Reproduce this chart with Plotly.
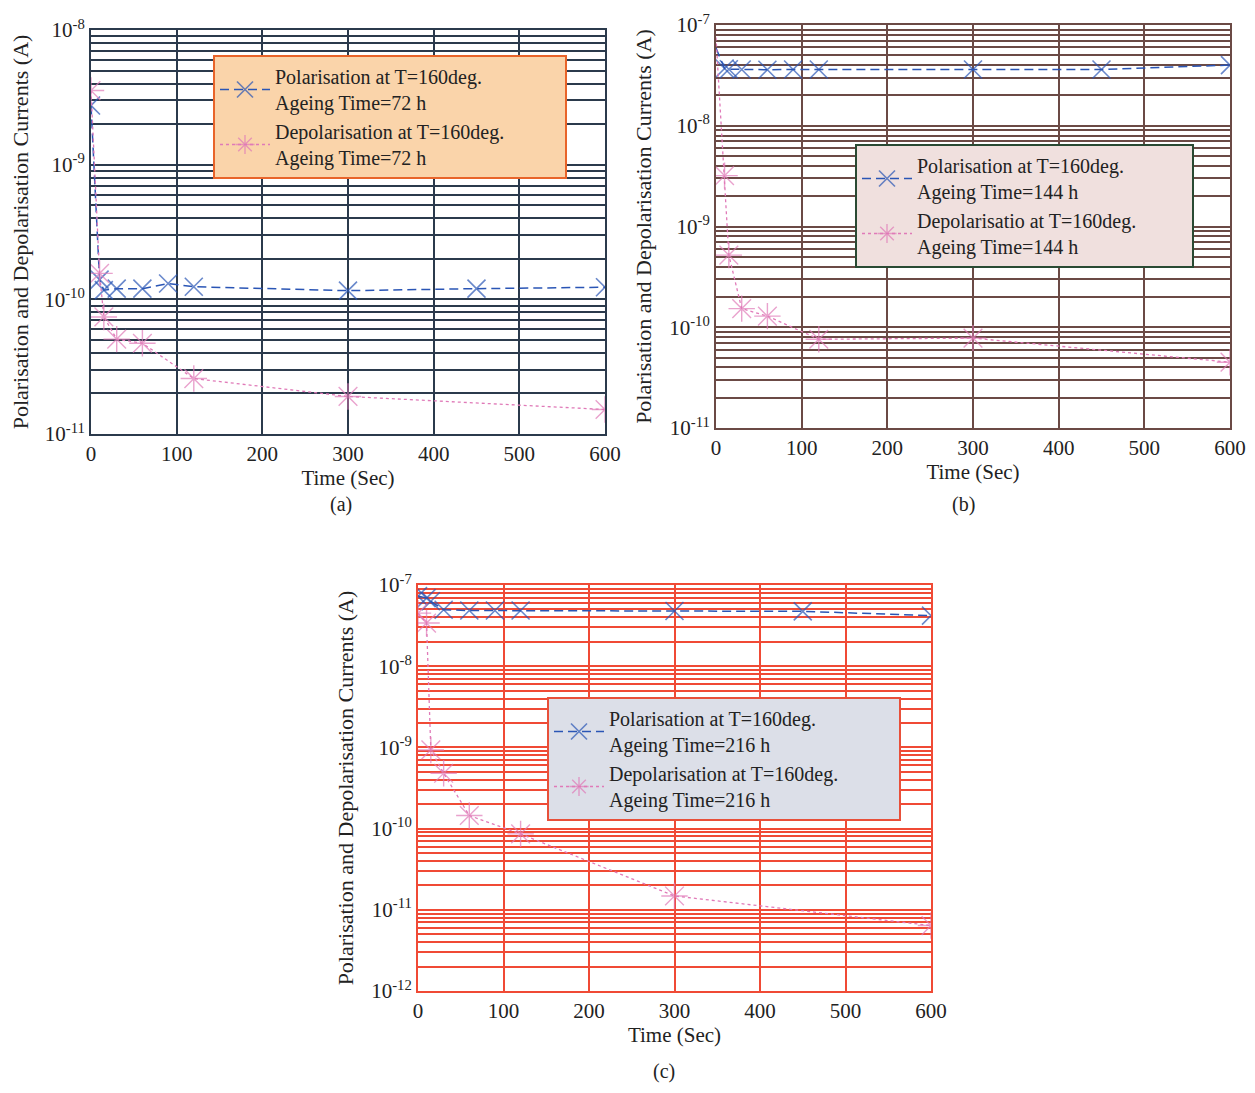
import plotly.graph_objects as go

# ---------------- data ----------------
t_pol = [0, 10, 15, 30, 60, 90, 120, 300, 450, 600]
t_dep = [0, 10, 15, 30, 60, 120, 300, 600]

pol_72 = [2.75e-9, 1.40e-10, 1.17e-10, 1.20e-10, 1.20e-10, 1.31e-10, 1.24e-10, 1.16e-10, 1.20e-10, 1.23e-10]
dep_72 = [3.55e-9, 1.56e-10, 7.4e-11, 5.06e-11, 4.72e-11, 2.58e-11, 1.90e-11, 1.52e-11]

pol_144 = [5.9e-8, 3.70e-8, 3.64e-8, 3.62e-8, 3.60e-8, 3.62e-8, 3.62e-8, 3.62e-8, 3.62e-8, 4.0e-8]
dep_144 = [7.5e-8, 3.2e-9, 5.2e-10, 1.53e-10, 1.29e-10, 7.6e-11, 7.8e-11, 4.5e-11]

pol_216 = [7.3e-8, 6.9e-8, 6.3e-8, 4.96e-8, 4.85e-8, 4.85e-8, 4.85e-8, 4.78e-8, 4.74e-8, 4.2e-8]
dep_216 = [4.5e-8, 3.4e-8, 9.3e-10, 4.8e-10, 1.45e-10, 8.6e-11, 1.48e-11, 6.4e-12]

pol_names = ["Polarisation at T=160deg.<br>Ageing Time=72 h",
             "Polarisation at T=160deg.<br>Ageing Time=144 h",
             "Polarisation at T=160deg.<br>Ageing Time=216 h"]
dep_names = ["Depolarisation at T=160deg.<br>Ageing Time=72 h",
             "Depolarisatio at T=160deg.<br>Ageing Time=144 h",
             "Depolarisation at T=160deg.<br>Ageing Time=216 h"]

x_ticks = [0, 100, 200, 300, 400, 500, 600]
decades = [(-11, -8), (-11, -7), (-12, -7)]
captions = ["(a)", "(b)", "(c)"]

# ---------------- layout helpers ----------------
W, H = 1239, 1077   # figure size (page has 8px body margin)
def fx(px):
    return (px - 8) / W
def fy(py):
    return 1 - (py - 8) / H

SERIF = "Liberation Serif, Times New Roman, serif"
BLUE = "#2a55b5"
PINK = "#e07ab8"
TXT = "#222222"

panels = [
    dict(x0=91, x1=605, y0=30, y1=434, grid="#2b3a4c", leg=(213, 55), pad=11,
         legbg="#fad4aa", legbd="#e8642a", cap=(341, 504)),
    dict(x0=716, x1=1230, y0=25, y1=428, grid="#6b4a45", leg=(855, 144), pad=10,
         legbg="#f0e0de", legbd="#2a4a33", cap=(964, 504)),
    dict(x0=418, x1=931, y0=585, y1=991, grid="#f04a35", leg=(547, 697), pad=11,
         legbg="#dcdfe8", legbd="#e8503a", cap=(664, 1071)),
]

pols = [pol_72, pol_144, pol_216]
deps = [dep_72, dep_144, dep_216]

fig = go.Figure()
annotations = []
layout = dict(width=W, height=H, margin=dict(l=0, r=0, t=0, b=0),
              paper_bgcolor="white", plot_bgcolor="white",
              font=dict(family=SERIF, color=TXT, size=19), showlegend=True)

for i, p in enumerate(panels):
    n = "" if i == 0 else str(i + 1)
    xa, ya = "x" + n, "y" + n
    leg = "legend" + n
    pad = "\u00a0" * p["pad"]
    psize = [18] * len(t_pol)
    dsize = [22] * len(t_dep)
    if i == 1:   # first points of panel b are practically invisible in the original
        psize[0] = 0
        dsize[0] = 0
    dn = dep_names[i].split("<br>")
    fig.add_trace(go.Scatter(
        x=t_pol, y=pols[i], name=pol_names[i], mode="lines+markers",
        line=dict(color=BLUE, width=1.5, dash="9px,5px"),
        marker=dict(symbol="x-thin-open", size=psize, color=BLUE,
                    line=dict(color=BLUE, width=1.6)),
        xaxis=xa, yaxis=ya, legend=leg))
    fig.add_trace(go.Scatter(
        x=t_dep, y=deps[i], name=dn[0] + pad + "<br>" + dn[1], mode="lines+markers",
        line=dict(color=PINK, width=1.3, dash="3px,3px"),
        marker=dict(symbol="asterisk-open", size=dsize, color=PINK,
                    line=dict(color=PINK, width=1.4)),
        xaxis=xa, yaxis=ya, legend=leg))

    lo, hi = decades[i]
    tv, tt = [], []
    for e in range(lo, hi + 1):
        for m in range(1, 10):
            if e == hi and m > 1:
                break
            tv.append(m * 10.0 ** e)
            tt.append("10<sup>%d</sup>" % e if m == 1 else "")

    layout["xaxis" + n] = dict(
        domain=[fx(p["x0"]), fx(p["x1"])], anchor=ya, range=[0, 600],
        tickvals=x_ticks, ticks="", showgrid=True, gridcolor=p["grid"], gridwidth=1.5,
        showline=True, mirror=True, linecolor=p["grid"], linewidth=2, zeroline=False,
        tickfont=dict(family=SERIF, size=21, color=TXT), automargin=False,
        title=dict(text="Time (Sec)", font=dict(family=SERIF, size=21, color=TXT), standoff=4))
    layout["yaxis" + n] = dict(
        domain=[fy(p["y1"]), fy(p["y0"])], anchor=xa, type="log", range=[lo, hi],
        tickvals=tv, ticktext=tt, ticks="", showgrid=True, gridcolor=p["grid"], gridwidth=1.5,
        showline=True, mirror=True, linecolor=p["grid"], linewidth=2, zeroline=False,
        tickfont=dict(family=SERIF, size=21, color=TXT), automargin=False,
        title=dict(text="Polarisation and Depolarisation Currents (A)",
                   font=dict(family=SERIF, size=22, color=TXT), standoff=12))
    layout[leg] = dict(
        x=fx(p["leg"][0]), y=fy(p["leg"][1]), xanchor="left", yanchor="top",
        bgcolor=p["legbg"], bordercolor=p["legbd"], borderwidth=2,
        itemwidth=50, font=dict(family=SERIF, size=20, color=TXT), tracegroupgap=0)
    annotations.append(dict(text=captions[i], x=fx(p["cap"][0]), y=fy(p["cap"][1]),
                            xref="paper", yref="paper", showarrow=False,
                            xanchor="center", yanchor="middle",
                            font=dict(family=SERIF, size=20, color=TXT)))

layout["annotations"] = annotations
fig.update_layout(**layout)
fig.write_html("out.html")
